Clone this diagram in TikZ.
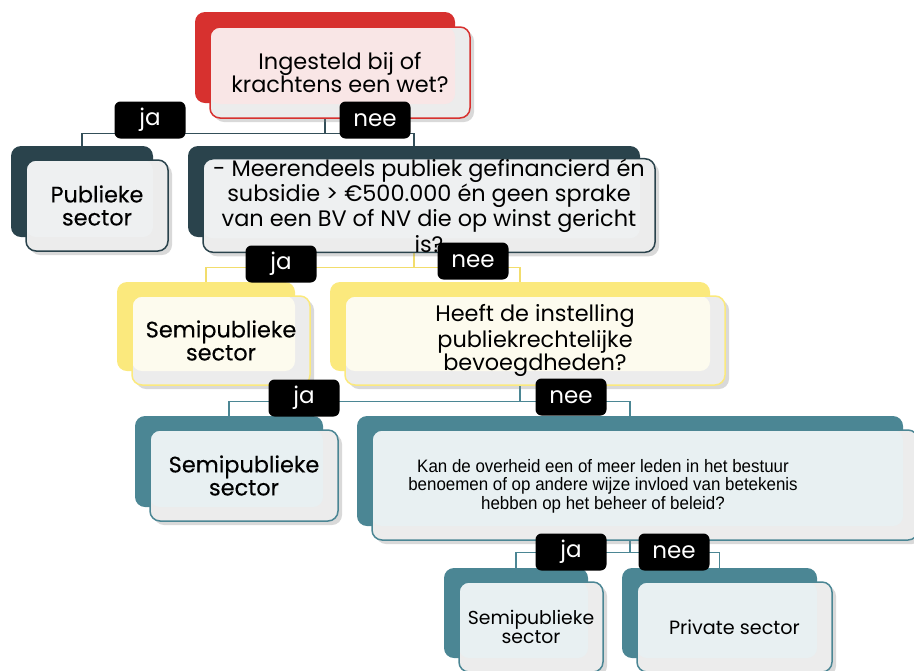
\documentclass[tikz,border=0pt]{standalone}
\usepackage{fontspec}
\setmainfont{Poppins}
\newfontfamily\medfont[FakeBold=0.3]{Poppins}
\newfontfamily\narrowfont[FakeStretch=0.94]{Liberation Sans}
\usetikzlibrary{shadows,backgrounds}

\definecolor{wetred}{HTML}{D7312F}
\definecolor{redtint}{HTML}{F9E6E6}
\definecolor{slate}{HTML}{2A434C}
\definecolor{slatetint}{HTML}{EEF0F1}
\definecolor{slateline}{HTML}{344F59}
\definecolor{semiyellow}{HTML}{FBE97D}
\definecolor{yellowline}{HTML}{F2DD6C}
\definecolor{yellowtint}{HTML}{FDFBEE}
\definecolor{teal}{HTML}{4B8694}
\definecolor{tealtint}{HTML}{E8F0F2}
\definecolor{cardgrey}{HTML}{ECECEC}

\begin{document}
\begin{tikzpicture}[
		x=0.5pt, y=-0.5pt,
		every node/.style={align=center, font=\fontsize{11.2}{11.5}\selectfont},
		back/.style={rectangle, rounded corners=5pt, fill=#1},
		front/.style={rectangle, rounded corners=5pt, draw=#1, line width=0.75pt, fill=cardgrey,
			drop shadow={opacity=0.3, shadow xshift=2pt, shadow yshift=-2pt}},
		tint/.style={path picture={\fill[#1, rounded corners=5pt] (path picture bounding box.north west)
			rectangle ([shift={(-7.5pt,7pt)}]path picture bounding box.south east);}},
		answer/.style={rectangle, rounded corners=3pt, fill=black, text=white,
			minimum width=35.5pt, minimum height=18.5pt, inner sep=0pt,
			font=\fontsize{11.5}{12}\selectfont},
		link/.style={line width=0.6pt, draw=#1},
		sector/.style={font=\medfont\fontsize{11.2}{11.5}\selectfont}
	]
  \useasboundingbox (0,0) rectangle (914,670);

  % back cards
  \node (wet_b) [back=wetred, minimum width=130pt, minimum height=45.5pt] at (325,57.5) {};
  \node (pub_b) [back=slate, minimum width=71pt, minimum height=45.5pt] at (82,191.5) {};
  \node (meer_b) [back=slate, minimum width=226pt, minimum height=45.5pt] at (414,191.5) {};
  \node (semi1_b) [back=semiyellow, minimum width=89pt, minimum height=44.5pt] at (206,326.5) {};
  \node (heeft_b) [back=semiyellow, minimum width=190pt, minimum height=44.5pt] at (520,326.5) {};
  \node (semi2_b) [back=teal, minimum width=94pt, minimum height=45.5pt] at (229,461.5) {};
  \node (kan_b) [back=teal, minimum width=273pt, minimum height=55pt] at (630,471) {};
  \node (semi3_b) [back=teal, minimum width=72pt, minimum height=45pt] at (516,613) {};
  \node (priv_b) [back=teal, minimum width=97.5pt, minimum height=45pt] at (719.5,613) {};

  % front cards
  \node (wet) [front=wetred, tint=redtint, minimum width=130pt, minimum height=45.5pt] at (340,72.5)
    {Ingesteld bij of\\krachtens een wet?};
  \node (pub) [front=slate, tint=slatetint, sector, minimum width=71pt, minimum height=45.5pt] at (97,205.5)
    {Publieke\\sector};
  \node (meer) [front=slate, tint=slatetint, minimum width=226pt, minimum height=45.5pt, inner ysep=0pt] at (429,205.5)
    {- Meerendeels publiek gefinancierd én\\subsidie > €500.000 én geen sprake\\van een BV of NV die op winst gericht\\is?};
  \node (semi1) [front=semiyellow, tint=yellowtint, sector, minimum width=89pt, minimum height=44.5pt] at (221,340.5)
    {Semipublieke\\sector};
  \node (heeft) [front=semiyellow, tint=yellowtint, minimum width=190pt, minimum height=44.5pt] at (535,340.5)
    {Heeft de instelling\\publiekrechtelijke\\bevoegdheden?};
  \node (semi2) [front=teal, tint=tealtint, sector, minimum width=94pt, minimum height=45.5pt] at (244,475.5)
    {Semipublieke\\sector};
  \node (kan) [front=teal, tint=tealtint, minimum width=273pt, minimum height=55pt] at (645,485) {};
  \node (kan_txt) [font=\narrowfont\fontsize{9}{9.3}\selectfont] at (603,486)
    {Kan de overheid een of meer leden in het bestuur\\benoemen of op andere wijze invloed van betekenis\\hebben op het beheer of beleid?};
  \node (semi3) [front=teal, tint=tealtint, minimum width=72pt, minimum height=45pt,
    font=\fontsize{9.4}{9.2}\selectfont] at (531,627) {Semipublieke\\sector};
  \node (priv) [front=teal, tint=tealtint, minimum width=97.5pt, minimum height=45pt,
    font=\fontsize{9.6}{10}\selectfont] at (734.5,627) {Private sector};

  % junctions
  \coordinate (wet_j) at ([yshift=-15pt]wet_b.south);
  \coordinate (meer_j) at ([yshift=-15pt]meer_b.south);
  \coordinate (heeft_j) at ([yshift=-15pt]heeft_b.south);
  \coordinate (kan_j) at ([yshift=-13pt]kan_b.south);

  \begin{pgfonlayer}{background}
    \draw [link=slateline] (wet_b.south) -- (wet_j) -| (pub_b.north);
    \draw [link=slateline] (wet_j) -| (meer_b.north);
    \draw [link=yellowline] (meer_b.south) -- (meer_j) -| (semi1_b.north);
    \draw [link=yellowline] (meer_j) -| (heeft_b.north);
    \draw [link=teal] (heeft_b.south) -- (heeft_j) -| (semi2_b.north);
    \draw [link=teal] (heeft_j) -| (kan_b.north);
    \draw [link=teal] (kan_b.south) -- (kan_j) -| (semi3_b.north);
    \draw [link=teal] (kan_j) -| (priv_b.north);
  \end{pgfonlayer}

  % answers
  \node (ja_1) [answer] at (150,120) {ja};
  \node (nee_1) [answer] at (375,120) {nee};
  \node (ja_2) [answer] at (281,264) {ja};
  \node (nee_2) [answer] at (473,261) {nee};
  \node (ja_3) [answer] at (304,398) {ja};
  \node (nee_3) [answer] at (571,397) {nee};
  \node (ja_4) [answer] at (571,552) {ja};
  \node (nee_4) [answer] at (674,552) {nee};
\end{tikzpicture}
\end{document}
